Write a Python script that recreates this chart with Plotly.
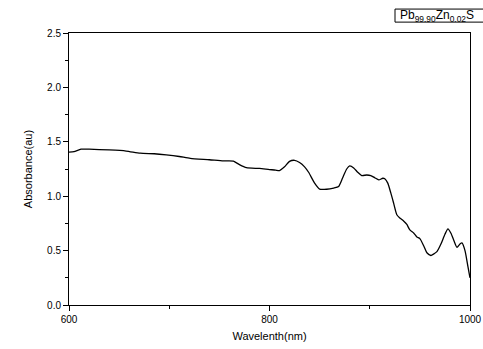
import plotly.graph_objects as go

wavelength = [600, 605, 612, 620, 640, 657, 671, 685, 697, 710, 721, 740, 754, 764, 770, 777,
              790, 800, 806, 810, 815, 820, 825, 830, 835, 839, 845, 850, 857, 864, 869, 873,
              877, 880, 884, 888, 892, 897, 901, 905, 909, 913, 915, 918, 921, 924, 927, 930,
              934, 937, 940, 944, 947, 950, 954, 957, 961, 964, 967, 971, 975, 978, 981, 984,
              987, 990, 992, 995, 998, 1000]
absorbance = [1.405, 1.41, 1.432, 1.432, 1.425, 1.415, 1.395, 1.39, 1.38, 1.365, 1.348, 1.335,
              1.324, 1.322, 1.29, 1.262, 1.255, 1.245, 1.24, 1.235, 1.27, 1.32, 1.33, 1.31,
              1.27, 1.22, 1.12, 1.065, 1.064, 1.075, 1.09, 1.17, 1.25, 1.278, 1.26, 1.22,
              1.19, 1.195, 1.19, 1.17, 1.15, 1.165, 1.16, 1.12, 1.03, 0.93, 0.83, 0.80,
              0.77, 0.74, 0.69, 0.66, 0.625, 0.61, 0.54, 0.48, 0.455, 0.47, 0.49, 0.56,
              0.65, 0.70, 0.66, 0.59, 0.53, 0.56, 0.57, 0.50, 0.35, 0.25]

x_ticks = [600, 800, 1000]
y_ticks = [0.0, 0.5, 1.0, 1.5, 2.0, 2.5]
legend_label = "Pb<sub>99.90</sub>Zn<sub>0.02</sub>S"

fig = go.Figure()
fig.add_trace(go.Scatter(x=wavelength, y=absorbance, mode="lines",
                         line=dict(color="black", width=1.3, shape="spline", smoothing=0.6),
                         showlegend=False, hoverinfo="skip"))

font = "Liberation Sans, Arial, sans-serif"
fig.update_layout(
    width=483, height=349, autosize=False,
    margin=dict(l=69, r=13, t=33, b=44, pad=0, autoexpand=False),
    paper_bgcolor="white", plot_bgcolor="white",
    font=dict(family=font, size=10, color="black"),
    xaxis=dict(range=[600, 1000], tickvals=x_ticks, ticktext=[str(v) for v in x_ticks],
               ticks="outside", ticklen=5, tickwidth=1, tickcolor="black",
               minor=dict(tickvals=[700, 900], ticks="outside", ticklen=3, tickcolor="black"),
               showline=True, linecolor="black", linewidth=1, mirror=True,
               showgrid=False, zeroline=False, automargin=False,
               title=dict(text="Wavelenth(nm)", font=dict(size=11), standoff=8),
               tickfont=dict(size=10)),
    yaxis=dict(range=[0, 2.5], tickvals=y_ticks, ticktext=[f"{v:.1f}" for v in y_ticks],
               ticks="outside", ticklen=5, tickwidth=1, tickcolor="black",
               minor=dict(tickvals=[0.25, 0.75, 1.25, 1.75, 2.25], ticks="outside",
                          ticklen=3, tickcolor="black"),
               showline=True, linecolor="black", linewidth=1, mirror=True,
               showgrid=False, zeroline=False, automargin=False,
               title=dict(text="Absorbance(au)", font=dict(size=11), standoff=12),
               tickfont=dict(size=10)),
)

fig.add_shape(type="rect", xref="paper", yref="paper",
              x0=0.813, x1=1.05, y0=1.040, y1=1.088,
              line=dict(color="black", width=1), fillcolor="white", layer="above")

fig.add_annotation(
    x=0.823, y=1.064, xref="paper", yref="paper", xanchor="left", yanchor="middle",
    text=legend_label,
    showarrow=False, font=dict(size=12, family=font, color="black"),
    borderpad=0, align="left",
)

fig.write_html("out.html", config={"responsive": False, "displayModeBar": False})
